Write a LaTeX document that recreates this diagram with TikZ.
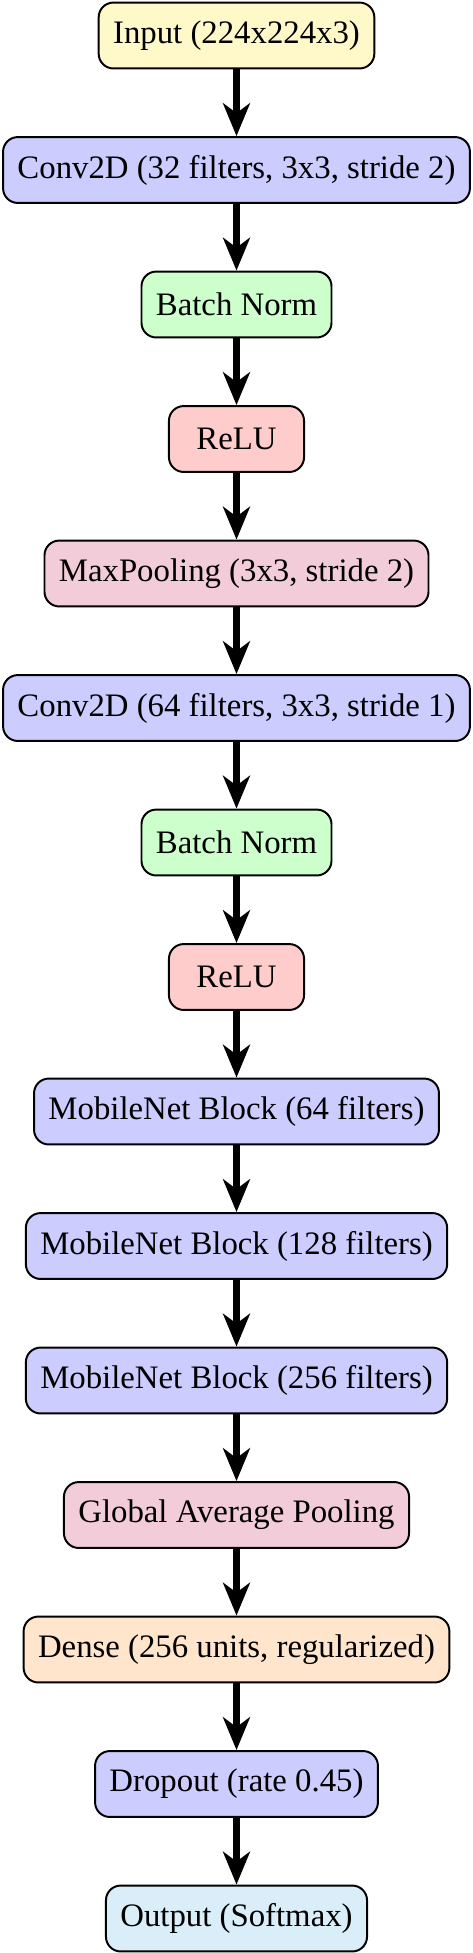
\documentclass[tikz,border=0pt]{standalone}
\usepackage{fontspec}
\setmainfont{Liberation Serif}
\usetikzlibrary{arrows.meta}
\definecolor{cinput}{HTML}{FFF9CA}
\definecolor{cconv}{HTML}{CCCCFF}
\definecolor{cbn}{HTML}{CCFFCC}
\definecolor{crelu}{HTML}{FFCCCC}
\definecolor{cpool}{HTML}{F2CCD9}
\definecolor{cdense}{HTML}{FFE5CC}
\definecolor{cout}{HTML}{D9EEF8}
\tikzset{
  layer/.style={draw=black, line width=0.6pt, rounded corners=4.5pt, minimum height=20.1pt,
    minimum width=41.2pt, inner xsep=4.4pt, inner ysep=2pt, font=\fontsize{10}{12}\selectfont},
  flow/.style={line width=1.9pt, -{Stealth[length=10pt, width=8.2pt, inset=3pt]}},
}
\begin{document}
\begin{tikzpicture}[x=0.305pt, y=-0.305pt]
\useasboundingbox (0,0) rectangle (473,1953);
\node[layer, fill=cinput] (n0) at (236.5,35.5) {Input (224x224x3)};
\node[layer, fill=cconv]  (n1) at (236.5,170) {Conv2D (32 filters, 3x3, stride 2)};
\node[layer, fill=cbn]    (n2) at (236.5,304.5) {Batch Norm};
\node[layer, fill=crelu]  (n3) at (236.5,439) {ReLU};
\node[layer, fill=cpool]  (n4) at (236.5,573.5) {MaxPooling (3x3, stride 2)};
\node[layer, fill=cconv]  (n5) at (236.5,708) {Conv2D (64 filters, 3x3, stride 1)};
\node[layer, fill=cbn]    (n6) at (236.5,842.5) {Batch Norm};
\node[layer, fill=crelu]  (n7) at (236.5,977) {ReLU};
\node[layer, fill=cconv]  (n8) at (236.5,1111.5) {MobileNet Block (64 filters)};
\node[layer, fill=cconv]  (n9) at (236.5,1246) {MobileNet Block (128 filters)};
\node[layer, fill=cconv]  (n10) at (236.5,1380.5) {MobileNet Block (256 filters)};
\node[layer, fill=cpool]  (n11) at (236.5,1515) {Global Average Pooling};
\node[layer, fill=cdense] (n12) at (236.5,1649.5) {Dense (256 units, regularized)};
\node[layer, fill=cconv]  (n13) at (236.5,1784) {Dropout (rate 0.45)};
\node[layer, fill=cout]   (n14) at (236.5,1918.5) {Output (Softmax)};
\foreach \a/\b in {n0/n1,n1/n2,n2/n3,n3/n4,n4/n5,n5/n6,n6/n7,n7/n8,n8/n9,n9/n10,n10/n11,n11/n12,n12/n13,n13/n14}
  \draw[flow] (\a) -- (\b);
\end{tikzpicture}
\end{document}
